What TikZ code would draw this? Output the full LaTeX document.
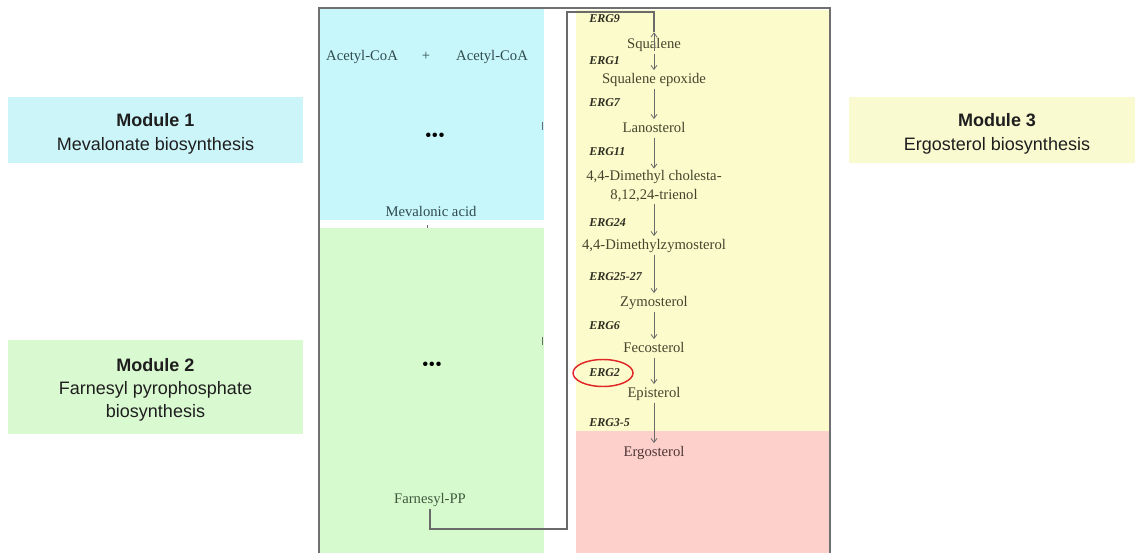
\documentclass[tikz,border=0pt]{standalone}
\usepackage{fontspec}
\setmainfont{Liberation Serif}
\newfontfamily\modfont{Liberation Sans}
\usetikzlibrary{arrows.meta}
\definecolor{bluereg}{HTML}{C8F7FB}
\definecolor{greenreg}{HTML}{D6FACE}
\definecolor{yelreg}{HTML}{FBFBCB}
\definecolor{pinkreg}{HTML}{FDD0CB}
\definecolor{m1fill}{HTML}{CCF5F9}
\definecolor{m2fill}{HTML}{D9F9D0}
\definecolor{m3fill}{HTML}{FAFAD0}
\definecolor{txtblue}{HTML}{2F4A4C}
\definecolor{txtgreen}{HTML}{3F5A3F}
\definecolor{txtyel}{HTML}{45452E}
\definecolor{txtpink}{HTML}{4F3636}
\definecolor{ergcol}{HTML}{2E2E22}
\definecolor{linecol}{HTML}{6A6A6A}
\definecolor{framecol}{HTML}{707070}
\definecolor{modtxt}{HTML}{1E1E1E}
\definecolor{ringred}{HTML}{E02626}
\begin{document}
\begin{tikzpicture}[x=0.75pt,y=-0.75pt,
  cmp/.style={font=\fontsize{11}{14.25}\selectfont, text=txtyel, inner sep=1.5pt,
              text height=8pt, text depth=2.5pt, anchor=base},
  cmptwo/.style={font=\fontsize{11}{14.25}\selectfont, text=txtyel, inner sep=1.5pt, align=center},
  erg/.style={font=\fontsize{9}{9}\selectfont\bfseries\itshape, text=ergcol, anchor=west, inner sep=0pt},
  arr/.style={draw=linecol, line width=0.6pt, -{Straight Barb[length=3pt,width=4.5pt]}},
  conn/.style={draw=linecol, line width=0.8pt},
  frame/.style={draw=framecol, line width=1.2pt},
  modbox/.style={draw=none, inner sep=0pt},
  modtext/.style={font=\modfont\fontsize{13.5}{17.5}\selectfont, text=modtxt, align=center, inner sep=0pt},
  dots/.style={font=\fontsize{14}{14}\selectfont, inner sep=0pt, text=black},
  tick/.style={draw=linecol, line width=0.5pt}
]
\useasboundingbox (0,0) rectangle (1135,553);

% coloured regions
\fill[bluereg] (320,9) rectangle (544,220);
\fill[greenreg] (320,228) rectangle (544,553);
\fill[yelreg] (576,10) rectangle (830,431);
\fill[pinkreg] (576,431) rectangle (830,553);

% frame
\draw[frame] (319,553) -- (319,8) -- (830,8) -- (830,553);

% module boxes
\node[modbox, fill=m1fill, minimum width=221.25pt, minimum height=49.5pt] (m1) at (155.5,130) {};
\node[modbox, fill=m2fill, minimum width=221.25pt, minimum height=70.5pt] (m2) at (155.5,387) {};
\node[modbox, fill=m3fill, minimum width=214.5pt, minimum height=49.5pt] (m3) at (992,130) {};
\node[modtext] (m1t) at (155.5,134) {\textbf{Module 1}\\Mevalonate biosynthesis};
\node[modtext] (m2t) at (155.5,390) {\textbf{Module 2}\\Farnesyl pyrophosphate\\biosynthesis};
\node[modtext] (m3t) at (997,134) {\textbf{Module 3}\\Ergosterol biosynthesis};

% module 1 / 2 contents
\node[cmp, text=txtblue] (ac1) at (362,60) {Acetyl-CoA};
\node[cmp, text=txtblue] (plus) at (426,60) {+};
\node[cmp, text=txtblue] (ac2) at (492,60) {Acetyl-CoA};
\node[dots] (d1) at (435,137) {•••};
\node[cmp, text=txtblue] (mev) at (431,216) {Mevalonic acid};
\node[dots] (d2) at (432,366) {•••};
\node[cmp, text=txtgreen] (fpp) at (430,503) {Farnesyl-PP};

% small ticks
\draw[tick] (542,122) -- (542,130);
\draw[tick] (427,225) -- (427,228);
\draw[tick] (542,337) -- (542,345);

% module 3 compounds
\node[cmp] (squ) at (654,48) {Squalene};
\node[cmp] (epo) at (654,83) {Squalene epoxide};
\node[cmp] (lan) at (654,132) {Lanosterol};
\node[cmptwo] (chol) at (654,186.5) {4,4-Dimethyl cholesta-\\8,12,24-trienol};
\node[cmp] (dmz) at (654,249) {4,4-Dimethylzymosterol};
\node[cmp] (zym) at (654,306) {Zymosterol};
\node[cmp] (fec) at (654,352) {Fecosterol};
\node[cmp] (epi) at (654,397) {Episterol};
\node[cmp, text=txtpink] (erg) at (654,456) {Ergosterol};

% enzymes
\node[erg] (e9) at (589,19) {ERG9};
\node[erg] (e1) at (589,61) {ERG1};
\node[erg] (e7) at (589,103) {ERG7};
\node[erg] (e11) at (589,152) {ERG11};
\node[erg] (e24) at (589,223) {ERG24};
\node[erg] (e25) at (589,277) {ERG25-27};
\node[erg] (e6) at (589,326) {ERG6};
\node[erg] (e2) at (589,373) {ERG2};
\node[erg] (e3) at (589,423) {ERG3-5};

\draw[ringred, line width=1.1pt] ([xshift=10.5pt]e2.west) ellipse [x radius=30, y radius=13.5];

% connector from Farnesyl-PP to Squalene
\coordinate (c1) at (567,529);
\coordinate (c2) at (567,12);
\draw[conn] (fpp.south) |- (c1) -- (c2) -| ([yshift=2pt]squ.north);
\draw[arr] ([yshift=-12pt]squ.north) -- ([yshift=2pt]squ.north);

% pathway arrows
\draw[arr] (squ.south) -- (epo.north);
\draw[arr] (epo.south) -- (lan.north);
\draw[arr] (lan.south) -- (chol.north);
\draw[arr] (chol.south) -- (dmz.north);
\draw[arr] (dmz.south) -- (zym.north);
\draw[arr] (zym.south) -- (fec.north);
\draw[arr] (fec.south) -- (epi.north);
\draw[arr] (epi.south) -- (erg.north);
\end{tikzpicture}
\end{document}
